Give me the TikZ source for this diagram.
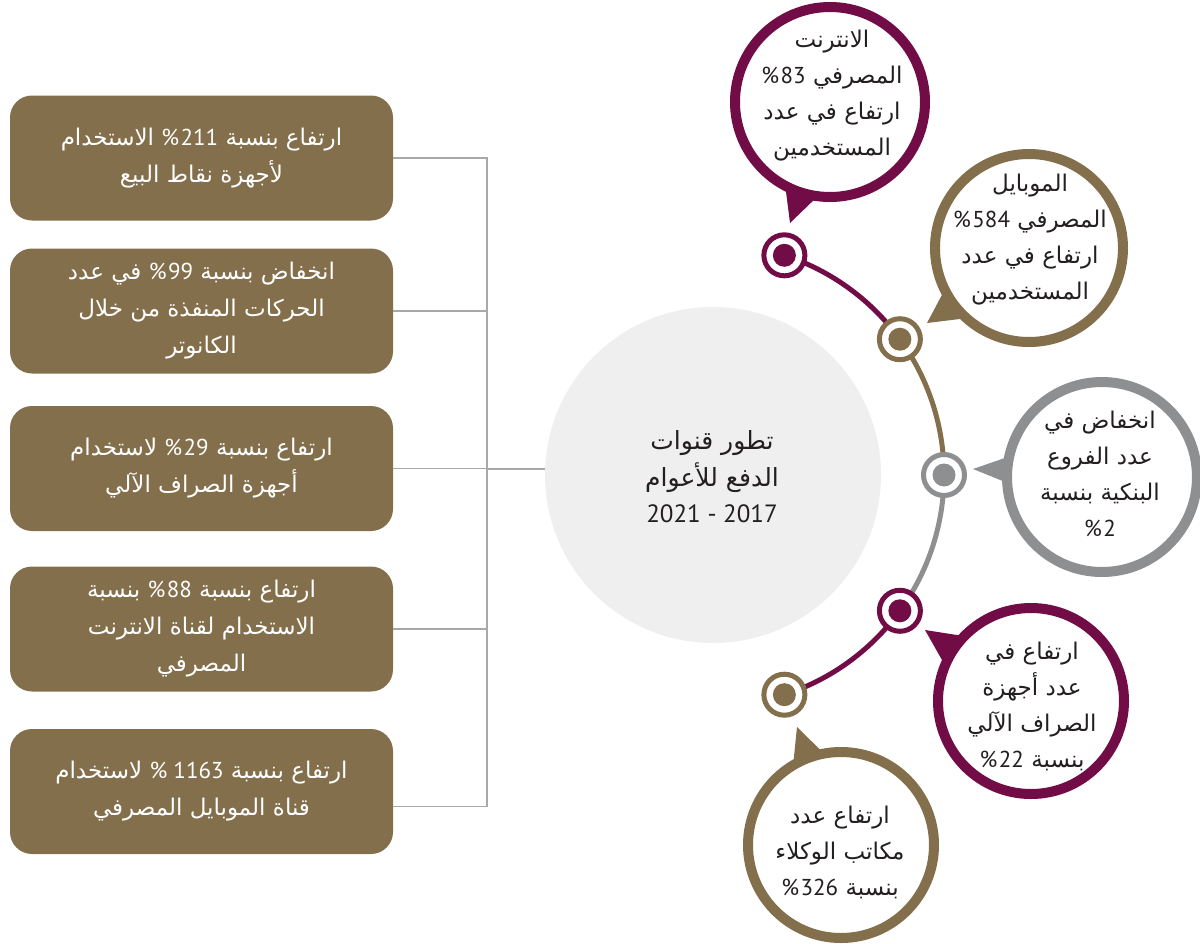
\documentclass[tikz,border=0pt]{standalone}
\usepackage{fontspec}
\TeXXeTstate=1
\newfontfamily\arabicfont[Script=Arabic]{DejaVu Sans}
\newfontfamily\numfont{PT Sans}
\usetikzlibrary{calc}
\definecolor{cbrown}{HTML}{836F4B}
\definecolor{cmaroon}{HTML}{720C47}
\definecolor{cgray}{HTML}{8E8F91}
\definecolor{clight}{HTML}{EFEFEF}
\definecolor{cline}{HTML}{A8A8A8}
\definecolor{ctext}{HTML}{231F20}
\newcommand\arline[1]{\beginR #1\endR}
\newcommand\nm[1]{{\numfont #1}}
\newcommand\pc[1]{{\numfont #1\kern1.5pt\%}}
\begin{document}
\begin{tikzpicture}[x=1pt,y=-1pt,
  every node/.style={font=\arabicfont\fontsize{23}{36}\selectfont},
  infobox/.style={rounded corners=22pt, fill=cbrown, text=white, minimum width=383pt, minimum height=125pt, align=center, inner sep=0pt, font=\arabicfont\fontsize{23}{37}\selectfont},
  conn/.style={draw=cline, line width=1.3pt},
  hub/.style={circle, fill=clight, minimum size=336pt, inner sep=0pt},
  txt/.style={align=center, text=ctext, inner sep=0pt},
  ring/.style={circle, draw=#1, fill=white, line width=10pt, inner sep=0pt},
  seg/.style={line width=5pt, draw=#1},
  dotnode/.style={circle, fill=white, draw=#1, line width=5pt, minimum size=41pt, inner sep=0pt,
    path picture={\fill[#1] (path picture bounding box.center) circle[radius=11.5pt];}}
]
\useasboundingbox (0,0) rectangle (1200,943);

% left boxes
\node[infobox] (b1) at (201.5,158) {\arline{ارتفاع بنسبة \pc{211} الاستخدام}\\\arline{لأجهزة نقاط البيع}};
\node[infobox] (b2) at (201.5,311) {\arline{انخفاض بنسبة \pc{99} في عدد}\\\arline{الحركات المنفذة من خلال}\\\arline{الكانوتر}};
\node[infobox] (b3) at (201.5,468.5) {\arline{ارتفاع بنسبة \pc{29} لاستخدام}\\\arline{أجهزة الصراف الآلي}};
\node[infobox] (b4) at (201.5,629) {\arline{ارتفاع بنسبة \pc{88} بنسبة}\\\arline{الاستخدام لقناة الانترنت}\\\arline{المصرفي}};
\node[infobox] (b5) at (201.5,791.5) {\arline{ارتفاع بنسبة \nm{1163 \%} لاستخدام}\\\arline{قناة الموبايل المصرفي}};

% hub
\node[hub] (cc) at (713,475) {};
\node[txt, font=\arabicfont\fontsize{25}{36.5}\selectfont] (ct) at (712,477) {\arline{تطور قنوات}\\\arline{الدفع للأعوام}\\\arline{\nm{2017 - 2021}}};

% connectors
\coordinate (jn) at (487,469);
\draw[conn] (b1.east) -| (jn);
\draw[conn] (b2.east) -| (jn);
\draw[conn] (b3.east) -| (jn);
\draw[conn] (b4.east) -| (jn);
\draw[conn] ([yshift=-15pt]b5.east) -| (jn);
\draw[conn] (jn) -- (jn -| cc.west);

% arc
\path (cc.center) ++(72:231pt) coordinate (p1);
\path (cc.center) ++(36:231pt) coordinate (p2);
\path (cc.center) ++(0:231pt) coordinate (p3);
\path (cc.center) ++(-36:231pt) coordinate (p4);
\path (cc.center) ++(-72:231pt) coordinate (p5);
\draw[seg=cmaroon] (p1) arc[start angle=72,end angle=36,radius=231pt];
\draw[seg=cbrown] (p2) arc[start angle=36,end angle=0,radius=231pt];
\draw[seg=cgray] (p3) arc[start angle=0,end angle=-36,radius=231pt];
\draw[seg=cmaroon] (p4) arc[start angle=-36,end angle=-72,radius=231pt];
\node[dotnode=cmaroon] (d1) at (p1) {};
\node[dotnode=cbrown] (d2) at (p2) {};
\node[dotnode=cgray] (d3) at (p3) {};
\node[dotnode=cmaroon] (d4) at (p4) {};
\node[dotnode=cbrown] (d5) at (p5) {};

% bubbles
\node[ring=cmaroon, minimum size=190pt] (u1) at (830,102) {};
\coordinate (k1) at (790,223);
\fill[cmaroon] (k1) -- ($(u1.center)+(241.9:95pt)$) -- ($(u1.center)+(262.6:95pt)$) -- cycle;
\node[txt] (t1) at (832,96) {\arline{الانترنت}\\\arline{المصرفي \pc{83}}\\\arline{ارتفاع في عدد}\\\arline{المستخدمين}};

\node[ring=cbrown, minimum size=188pt] (u2) at (1029,248) {};
\coordinate (k2) at (927,323);
\fill[cbrown] (k2) -- ($(u2.center)+(206.3:94pt)$) -- ($(u2.center)+(228.3:94pt)$) -- cycle;
\node[txt] (t2) at (1030,240) {\arline{الموبايل}\\\arline{المصرفي \pc{584}}\\\arline{ارتفاع في عدد}\\\arline{المستخدمين}};

\node[ring=cgray, minimum size=190pt] (u3) at (1102,477) {};
\coordinate (k3) at (973,469);
\fill[cgray] (k3) -- ($(u3.center)+(167.5:95pt)$) -- ($(u3.center)+(183.5:95pt)$) -- cycle;
\node[txt] (t3) at (1100,474) {\arline{انخفاض في}\\\arline{عدد الفروع}\\\arline{البنكية بنسبة}\\\arline{\pc{2}}};

\node[ring=cmaroon, minimum size=186pt] (u4) at (1031,701) {};
\coordinate (k4) at (925,630);
\fill[cmaroon] (k4) -- ($(u4.center)+(135.8:93pt)$) -- ($(u4.center)+(157.5:93pt)$) -- cycle;
\node[txt] (t4) at (1032,706) {\arline{ارتفاع في}\\\arline{عدد أجهزة}\\\arline{الصراف الآلي}\\\arline{بنسبة \pc{22}}};

\node[ring=cbrown, minimum size=186pt] (u5) at (841,845) {};
\coordinate (k5) at (797,727);
\fill[cbrown] (k5) -- ($(u5.center)+(121:93pt)$) -- ($(u5.center)+(100.5:93pt)$) -- cycle;
\node[txt] (t5) at (840,852) {\arline{ارتفاع عدد}\\\arline{مكاتب الوكلاء}\\\arline{بنسبة \pc{326}}};
\end{tikzpicture}
\end{document}
